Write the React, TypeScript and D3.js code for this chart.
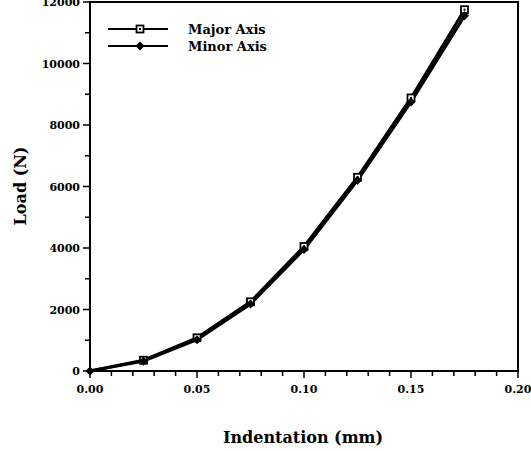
import React from 'react';
import * as d3 from 'd3';

const indentation = [0, 0.025, 0.05, 0.075, 0.1, 0.125, 0.15, 0.175];
const majorAxis = [0, 350, 1080, 2250, 4050, 6300, 8880, 11750];
const minorAxis = [0, 320, 1020, 2180, 3950, 6200, 8750, 11550];
const xTickLabels = [0, 0.05, 0.1, 0.15, 0.2];
const yTickLabels = [0, 2000, 4000, 6000, 8000, 10000, 12000];

const W = 531;
const H = 451;
const left = 90, right = 518, top = 2, bottom = 371;
const font = '"DejaVu Serif", "Liberation Serif", serif';

const App = () => {
  const x = d3.scaleLinear().domain([0, 0.2]).range([left, right]);
  const y = d3.scaleLinear().domain([0, 12000]).range([bottom, top]);

  const line = d3.line<number>()
    .x((d, i) => x(indentation[i]))
    .y(d => y(d));

  const xMinor = d3.range(0, 0.2001, 0.01);
  const yMinor = d3.range(0, 12001, 1000);

  const square = (cx, cy, key) => (
    <g key={key}>
      <rect x={cx - 3.5} y={cy - 3.5} width={7} height={7} fill="#fff" stroke="#000" strokeWidth={1.8} />
      <rect x={cx - 1} y={cy - 1} width={2} height={2} fill="#000" />
    </g>
  );
  const diamond = (cx, cy, key) => (
    <path key={key} d={`M${cx},${cy - 4.5}L${cx + 4.5},${cy}L${cx},${cy + 4.5}L${cx - 4.5},${cy}Z`} fill="#000" />
  );

  return (
    <div style={{ position: 'absolute', left: 0, top: 0 }}>
      <svg width={W} height={H} style={{ display: 'block', background: '#fff' }}>
        {/* frame */}
        <rect x={left} y={top} width={right - left} height={bottom - top} fill="none" stroke="#000" strokeWidth={2} />

        {/* x ticks */}
        {xMinor.map((v, i) => (
          <line key={'xm' + i} x1={x(v)} x2={x(v)} y1={bottom} y2={bottom + (i % 5 === 0 ? 7 : 5)} stroke="#000" strokeWidth={1.5} />
        ))}
        {xTickLabels.map(v => (
          <text key={'xl' + v} x={x(v)} y={bottom + 22} textAnchor="middle" fontFamily={font} fontWeight="bold" fontSize={11}>
            {d3.format('.2f')(v)}
          </text>
        ))}

        {/* y ticks */}
        {yMinor.map((v, i) => (
          <line key={'ym' + i} x1={left - (i % 2 === 0 ? 7 : 5)} x2={left} y1={y(v)} y2={y(v)} stroke="#000" strokeWidth={1.5} />
        ))}
        {yTickLabels.map(v => (
          <text key={'yl' + v} x={left - 10} y={y(v) + 4} textAnchor="end" fontFamily={font} fontWeight="bold" fontSize={11}>
            {v}
          </text>
        ))}

        {/* axis titles */}
        <text x={303} y={443} textAnchor="middle" fontFamily={font} fontWeight="bold" fontSize={16}>Indentation (mm)</text>
        <text transform={`translate(26,186) rotate(-90)`} textAnchor="middle" fontFamily={font} fontWeight="bold" fontSize={16}>Load (N)</text>

        {/* series */}
        <path d={line(minorAxis) || ''} fill="none" stroke="#000" strokeWidth={3} />
        <path d={line(majorAxis) || ''} fill="none" stroke="#000" strokeWidth={3} />
        {majorAxis.map((v, i) => i === 0 ? null : square(x(indentation[i]), y(v), 'mj' + i))}
        {minorAxis.map((v, i) => diamond(x(indentation[i]), y(v), 'mn' + i))}

        {/* legend */}
        <line x1={108} x2={168} y1={29} y2={29} stroke="#000" strokeWidth={2} />
        {square(140, 29, 'lg1')}
        <text x={188} y={34} fontFamily={font} fontWeight="bold" fontSize={13}>Major Axis</text>
        <line x1={108} x2={168} y1={46} y2={46} stroke="#000" strokeWidth={2} />
        {diamond(140, 46, 'lg2')}
        <text x={188} y={51} fontFamily={font} fontWeight="bold" fontSize={13}>Minor Axis</text>
      </svg>
    </div>
  );
};

export default App;
